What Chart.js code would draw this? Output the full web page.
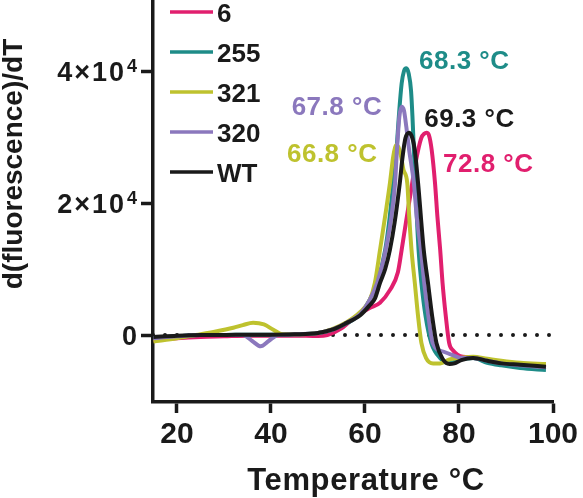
<!DOCTYPE html>
<html>
<head>
<meta charset="utf-8">
<script src="https://cdn.jsdelivr.net/npm/chart.js@4.4.1/dist/chart.umd.min.js"></script>
<style>
  html, body { margin: 0; padding: 0; background: #ffffff; }
  #wrap { width: 583px; height: 498px; }
</style>
</head>
<body>
<div id="wrap"><canvas id="c" width="583" height="498"></canvas></div>
<script>
// ---------- DATA ----------
const seriesNames = ["6", "255", "321", "320", "WT"];
const seriesColors = ["#E11F6E", "#1E8C88", "#BEC22E", "#8B78BD", "#1a1a1a"];

const temps6 = [15, 20, 25, 30, 35, 40, 45, 50, 52, 55, 58, 61, 63.2, 65.3, 67, 67.8, 68.7, 69.6, 70.5, 71.3, 72, 72.6, 73.1, 73.6, 74.2, 74.9, 75.4, 76, 76.5, 77.2, 77.9, 78.7, 80.8, 83, 86, 89, 93, 98.5];
const vals6  = [-800, -500, -300, -200, -100, -100, -100, -150, 0, 1000, 2800, 4100, 4900, 6800, 9500, 12900, 17000, 21000, 25000, 28000, 29900, 30500, 30650, 30300, 28000, 23000, 18000, 12900, 7900, 2800, -1200, -2300, -3300, -3400, -3800, -4200, -4600, -5000];

const temps255 = [15, 20, 25, 30, 35, 40, 45, 50, 53, 56.2, 59, 61, 62.6, 64.3, 65.2, 66, 66.7, 67.2, 67.8, 68.3, 68.8, 69.3, 69.8, 70.1, 70.7, 71.4, 72, 72.9, 74.1, 76, 78, 80, 83, 86, 89, 93, 98.5];
const vals255  = [-500, -200, 0, 0, 50, 50, 100, 300, 800, 1800, 3200, 5300, 7900, 12900, 17500, 23000, 28000, 33100, 38100, 40000, 40400, 39600, 37000, 33100, 23000, 12900, 7900, 2800, -1200, -3500, -4250, -3800, -3500, -4200, -4600, -5000, -5300];

const temps321 = [15, 20, 24, 28, 32, 34, 36.2, 38.5, 40.5, 42.5, 45, 50, 53, 56, 59, 61, 62.1, 63.2, 64.5, 65.3, 66, 66.4, 66.7, 67.1, 67.6, 68.2, 69, 69.4, 69.9, 70.6, 71.3, 72, 73, 74.5, 76, 78, 80, 83, 86, 89, 93, 98.5];
const vals321  = [-1000, -500, 0, 500, 1100, 1500, 1850, 1600, 800, 100, 100, 300, 900, 1900, 3500, 5300, 7900, 12900, 19000, 23000, 27000, 28400, 28800, 28500, 27300, 25000, 23000, 18000, 12900, 7900, 2800, -1200, -3500, -4300, -4300, -3700, -3500, -3300, -3600, -3900, -4200, -4400];

const temps320 = [15, 20, 25, 30, 34, 36, 37.8, 39.5, 41.5, 45, 50, 53, 56, 59, 61, 62.6, 64.4, 66.4, 66.8, 67.3, 67.8, 68.3, 68.8, 69.4, 70.4, 71, 71.9, 72.6, 73.5, 74.4, 76.6, 78.5, 80.8, 83, 86, 89, 93, 98.5];
const vals320  = [-500, -200, 0, 0, 0, -900, -1700, -900, 0, 100, 300, 800, 1800, 3200, 5300, 7900, 12900, 23000, 28000, 33000, 34600, 34000, 31500, 28000, 23000, 18000, 12900, 7900, 2800, -1200, -2500, -3000, -3500, -3500, -3900, -4300, -4600, -4900];

const tempsWT = [15, 20, 25, 30, 35, 40, 45, 50, 53, 56, 59, 61, 62.1, 63.2, 64.3, 65.3, 66.3, 67.4, 68, 68.6, 69.4, 70.1, 70.6, 71.3, 72.5, 73.4, 74.3, 75.2, 76.5, 78, 79, 80.5, 83, 86, 89, 93, 98.5];
const valsWT  = [-300, -100, 0, 0, 50, 50, 100, 300, 800, 1800, 3000, 4500, 5500, 7900, 10000, 12900, 17000, 23000, 27000, 29800, 30650, 29800, 28000, 23000, 12900, 7900, 2800, -1200, -3600, -4400, -4300, -3800, -3500, -3900, -4300, -4500, -4800];

const seriesTemps = [temps6, temps255, temps321, temps320, tempsWT];
const seriesVals  = [vals6, vals255, vals321, vals320, valsWT];

// Tm annotations (anchored in data units: left edge temperature, vertical centre value)
const tmLabels = ["68.3 °C", "67.8 °C", "69.3 °C", "66.8 °C", "72.8 °C"];
const tmColors = ["#1E8C88", "#8B78BD", "#1a1a1a", "#BEC22E", "#E11F6E"];
const tmLabelT = [71.5, 44.4, 72.6, 43.4, 76.6];
const tmLabelV = [41800, 34700, 33000, 27600, 26200];

const xTicks = [20, 40, 60, 80, 100];
const yTicks = [0, 20000, 40000];
const yTickMain = ["0", "2×10", "4×10"];
const yTickExp  = ["", "4", "4"];

const zeroLineT = [14.9, 100];
const zeroLineV = [0, 0];

const xTitle = "Temperature °C";
const yTitle = "d(fluorescence)/dT";

// ---------- CHART ----------
const FONT = '"Liberation Sans", Arial, Helvetica, sans-serif';
const INK = '#1a1a1a';

const datasets = seriesNames.map((name, i) => ({
  label: name,
  data: seriesTemps[i].map((t, k) => ({ x: t, y: seriesVals[i][k] })),
  borderColor: seriesColors[i],
  backgroundColor: seriesColors[i],
  borderWidth: 4,
  pointRadius: 0,
  cubicInterpolationMode: 'monotone',
  fill: false,
  order: seriesNames.length - i
}));
datasets.push({
  label: 'zero',
  data: zeroLineT.map((t, k) => ({ x: t, y: zeroLineV[k] })),
  borderColor: INK,
  borderWidth: 4,
  borderDash: [0, 12],
  borderCapStyle: 'round',
  pointRadius: 0,
  fill: false,
  order: 20
});

const decorPlugin = {
  id: 'decor',
  afterDraw(chart) {
    const ctx = chart.ctx;
    const xs = chart.scales.x, ys = chart.scales.y;
    const area = chart.chartArea;
    ctx.save();

    // y tick labels with superscript exponent
    const right = area.left - 16;
    yTicks.forEach((v, i) => {
      const py = ys.getPixelForValue(v);
      ctx.fillStyle = INK;
      ctx.textBaseline = 'alphabetic';
      ctx.textAlign = 'right';
      let rx = right;
      ctx.letterSpacing = '0px';
      if (yTickExp[i]) {
        ctx.font = 'bold 18px ' + FONT;
        ctx.fillText(yTickExp[i], rx, py + 1);
        rx -= ctx.measureText(yTickExp[i]).width + 1;
        ctx.letterSpacing = '2px';
      }
      ctx.font = 'bold 27px ' + FONT;
      ctx.fillText(yTickMain[i], rx, py + 10);
      ctx.letterSpacing = '0px';
    });

    // y title
    ctx.save();
    ctx.translate(14, 164);
    ctx.rotate(-Math.PI / 2);
    ctx.font = 'bold 28px ' + FONT;
    ctx.textAlign = 'center';
    ctx.textBaseline = 'middle';
    ctx.fillStyle = INK;
    ctx.fillText(yTitle, 0, 0);
    ctx.restore();

    // x title
    ctx.font = 'bold 31px ' + FONT;
    ctx.letterSpacing = '0.6px';
    ctx.textAlign = 'center';
    ctx.textBaseline = 'alphabetic';
    ctx.fillStyle = INK;
    ctx.fillText(xTitle, 366, 490);
    ctx.letterSpacing = '0px';

    // legend
    const lx0 = area.left + 17, lx1 = area.left + 60, ty0 = 12, step = 40;
    seriesNames.forEach((name, i) => {
      const y = ty0 + i * step;
      ctx.strokeStyle = seriesColors[i];
      ctx.lineWidth = 3.5;
      ctx.lineCap = 'butt';
      ctx.beginPath();
      ctx.moveTo(lx0, y);
      ctx.lineTo(lx1, y);
      ctx.stroke();
      ctx.fillStyle = INK;
      ctx.font = 'bold 26px ' + FONT;
      ctx.textAlign = 'left';
      ctx.textBaseline = 'alphabetic';
      ctx.fillText(name, lx1 + 4, y + 9.5);
    });

    // Tm labels
    tmLabels.forEach((txt, i) => {
      const px = xs.getPixelForValue(tmLabelT[i]);
      const py = ys.getPixelForValue(tmLabelV[i]);
      ctx.fillStyle = tmColors[i];
      ctx.font = 'bold 26px ' + FONT;
      ctx.letterSpacing = '0.5px';
      ctx.textAlign = 'left';
      ctx.textBaseline = 'alphabetic';
      ctx.fillText(txt, px, py + 9.5);
      ctx.letterSpacing = '0px';
    });

    ctx.restore();
  }
};

new Chart(document.getElementById('c'), {
  type: 'line',
  data: { datasets },
  options: {
    responsive: false,
    animation: false,
    devicePixelRatio: 1,
    layout: { padding: { left: 0, right: 30, top: 0, bottom: 0 } },
    plugins: { legend: { display: false }, tooltip: { enabled: false } },
    scales: {
      x: {
        type: 'linear',
        min: 14.9,
        max: 100,
        afterBuildTicks: s => { s.ticks = xTicks.map(v => ({ value: v })); },
        afterFit: s => { s.height = 96; },
        grid: { display: true, drawOnChartArea: false, drawTicks: true, tickLength: 11, tickWidth: 3.5, tickColor: INK },
        border: { display: true, width: 3.5, color: INK },
        ticks: { color: INK, font: { family: FONT, size: 30, weight: 'bold' }, padding: 4, maxRotation: 0 }
      },
      y: {
        type: 'linear',
        min: -10150,
        max: 50760,
        afterBuildTicks: s => { s.ticks = yTicks.map(v => ({ value: v })); },
        afterFit: s => { s.width = 153; },
        grid: { display: true, drawOnChartArea: false, drawTicks: true, tickLength: 12, tickWidth: 3.5, tickColor: INK },
        border: { display: true, width: 3.5, color: INK },
        ticks: { display: false }
      }
    }
  },
  plugins: [decorPlugin]
});
</script>
</body>
</html>
